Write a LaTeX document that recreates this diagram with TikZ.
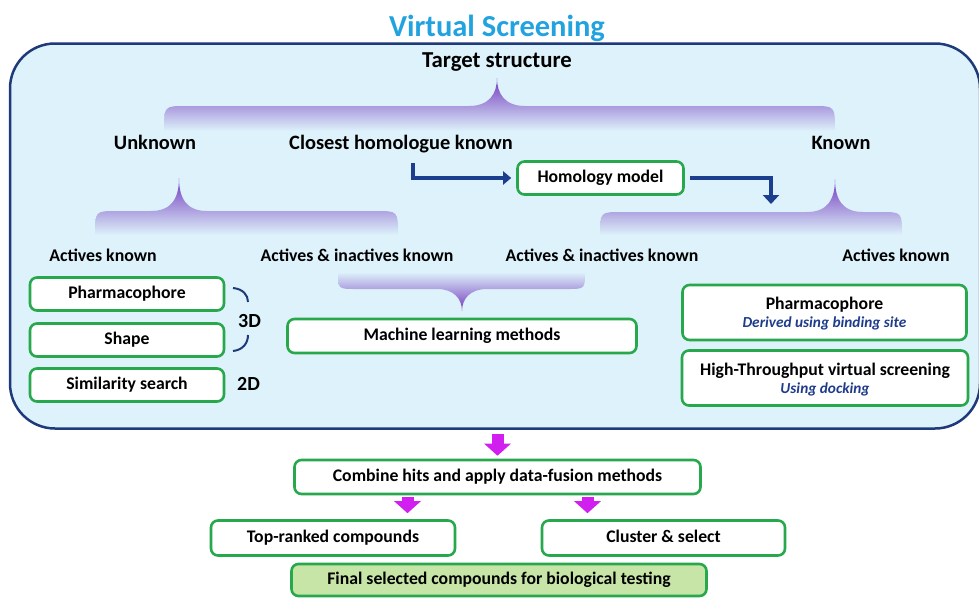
\documentclass[tikz,border=0pt]{standalone}
\usepackage{fontspec}
\setmainfont{Carlito}
\usetikzlibrary{arrows.meta,calc}

\definecolor{vsblue}{HTML}{22A3DF}
\definecolor{panel}{HTML}{DDF2FA}
\definecolor{navy}{HTML}{1E3A7B}
\definecolor{arrownavy}{HTML}{1B3F8E}
\definecolor{boxgreen}{HTML}{27A84C}
\definecolor{finalfill}{HTML}{C6E5A6}
\definecolor{magentaarrow}{HTML}{D01FEF}
\definecolor{bracedark}{HTML}{7338BE}
\definecolor{bracemid}{HTML}{AE94E4}
\definecolor{subblue}{HTML}{1F3C8C}

% shaded curly brace with its point upwards: left, tip x, right, tip y, bar top, bar bottom
\newcommand\upbrace[6]{%
  \path[top color=bracedark, middle color=bracemid, bottom color=panel]
    (#1,#6) .. controls (#1,#5) .. (#1+22,#5) -- (#2-28,#5)
    .. controls (#2-8,#5) and (#2,#5-12) .. (#2,#4)
    .. controls (#2,#5-12) and (#2+8,#5) .. (#2+28,#5) -- (#3-22,#5)
    .. controls (#3,#5) .. (#3,#6) -- cycle;}
% the same brace pointing downwards: left, tip x, right, tip y, bar bottom, bar top
\newcommand\downbrace[6]{%
  \path[top color=panel, middle color=bracemid, bottom color=bracedark]
    (#1,#6) .. controls (#1,#5) .. (#1+18,#5) -- (#2-25,#5)
    .. controls (#2-8,#5) and (#2,#5+10) .. (#2,#4)
    .. controls (#2,#5+10) and (#2+8,#5) .. (#2+25,#5) -- (#3-18,#5)
    .. controls (#3,#5) .. (#3,#6) -- cycle;}

\tikzset{
  gbox/.style={draw=boxgreen, line width=2.6pt, fill=white, rounded corners=7pt,
    font=\bfseries\fontsize{17.7}{21}\selectfont, inner sep=0pt, align=center},
  onebox/.style={gbox, text height=12.5pt, text depth=3.5pt},
  lvl/.style={font=\bfseries\fontsize{20.4}{24}\selectfont, inner sep=0pt, anchor=base},
  sublvl/.style={font=\bfseries\fontsize{17.8}{21}\selectfont, inner sep=0pt},
  dimlabel/.style={font=\bfseries\fontsize{20}{22}\selectfont, inner sep=0pt},
  navyarrow/.style={draw=arrownavy, line width=4pt, -{Triangle[width=13pt,length=8pt]}},
  magarrow/.style={draw=magentaarrow, line width=12pt, -{Triangle[width=26pt,length=12pt]}},
}
\newcommand\notetext[1]{{\bfseries\itshape\fontsize{15.3}{18}\selectfont\color{subblue}#1}}

\begin{document}
\begin{tikzpicture}[x=1pt,y=-1pt]
\useasboundingbox (0,0) rectangle (979,597);

% title and the main panel
\node[font=\bfseries\fontsize{30.5}{34}\selectfont, text=vsblue, inner sep=0pt] (title) at (497,28) {Virtual Screening};
\node[draw=navy, line width=2.5pt, fill=panel, rounded corners=45pt,
      minimum width=970pt, minimum height=385pt, inner sep=0pt] (vsbox) at (495,236) {};

% decision tree
\node[font=\bfseries\fontsize{22.8}{26}\selectfont, inner sep=0pt] (target) at (497,62) {Target structure};
\upbrace{164}{497}{835}{78}{106}{131}
\node[lvl] (unknown) at (155,149.5) {Unknown};
\node[lvl] (closest) at (401,149.5) {Closest homologue known};
\node[lvl] (known) at (841,149.5) {Known};

\upbrace{95}{179}{398}{178}{211}{235}
\upbrace{600}{835}{902}{179}{212}{235}

\node[sublvl] (actL) at (103,255.5) {Actives known};
\node[sublvl] (actinL) at (357,255.5) {Actives \& inactives known};
\node[sublvl] (actinR) at (602,255) {Actives \& inactives known};
\node[sublvl] (actR) at (896,255) {Actives known};

\downbrace{338}{462}{585}{311}{289}{272}

% homology model route
\node[onebox, minimum width=166pt, minimum height=33pt] (homology) at (600.5,178) {Homology model};
\coordinate (bend1) at (413,163);
\draw[navyarrow] (bend1) |- ([xshift=-5pt]homology.west);
\coordinate (drop2) at (771,204);
\draw[navyarrow, -{Triangle[width=16pt,length=9pt]}] ([xshift=5pt]homology.east) -| (drop2);

% ligand-based methods
\node[onebox, minimum width=194pt, minimum height=33pt] (pharmL) at (127,294) {Pharmacophore};
\node[onebox, minimum width=194pt, minimum height=33pt] (shape) at (127,340) {Shape};
\node[onebox, minimum width=194pt, minimum height=33pt] (simil) at (127,385) {Similarity search};
\draw[navy, line width=2pt] (233,288) .. controls (243,289) and (248,295) .. (248,302);
\draw[navy, line width=2pt] (248,335) .. controls (248,343) and (243,350) .. (233,351);
\node[dimlabel] (threeD) at (249.5,321) {3D};
\node[dimlabel] (twoD) at (248.5,384) {2D};

\node[onebox, minimum width=349pt, minimum height=34pt] (ml) at (462,336) {Machine learning methods};

% structure-based methods
\node[gbox, minimum width=284pt, minimum height=55pt] (pharmR) at (824.5,312.5)
  {\rule{0pt}{15pt}Pharmacophore\\[-3pt]\notetext{Derived using binding site}};
\node[gbox, minimum width=286pt, minimum height=55pt] (hts) at (825,378)
  {\rule{0pt}{15pt}High-Throughput virtual screening\\[-3pt]\notetext{Using docking}};

% post-processing
\node[onebox, minimum width=406pt, minimum height=34pt] (combine) at (497.5,477) {Combine hits and apply data-fusion methods};
\node[onebox, minimum width=244pt, minimum height=35pt] (toprank) at (333,538) {Top-ranked compounds};
\node[onebox, minimum width=243pt, minimum height=35pt] (cluster) at (663.5,538) {Cluster \& select};
\node[onebox, fill=finalfill, minimum width=415pt, minimum height=32pt] (final) at (499,580) {Final selected compounds for biological testing};

\draw[magarrow, shorten <=4pt, shorten >=3pt] (vsbox.south -| combine.north) -- (combine.north);
\coordinate (m2) at ([xshift=-90pt]combine.south);
\coordinate (m3) at ([xshift=90pt]combine.south);
\draw[magarrow, shorten <=2pt, shorten >=6pt] (m2) -- (m2 |- toprank.north);
\draw[magarrow, shorten <=2pt, shorten >=6pt] (m3) -- (m3 |- cluster.north);
\end{tikzpicture}
\end{document}
